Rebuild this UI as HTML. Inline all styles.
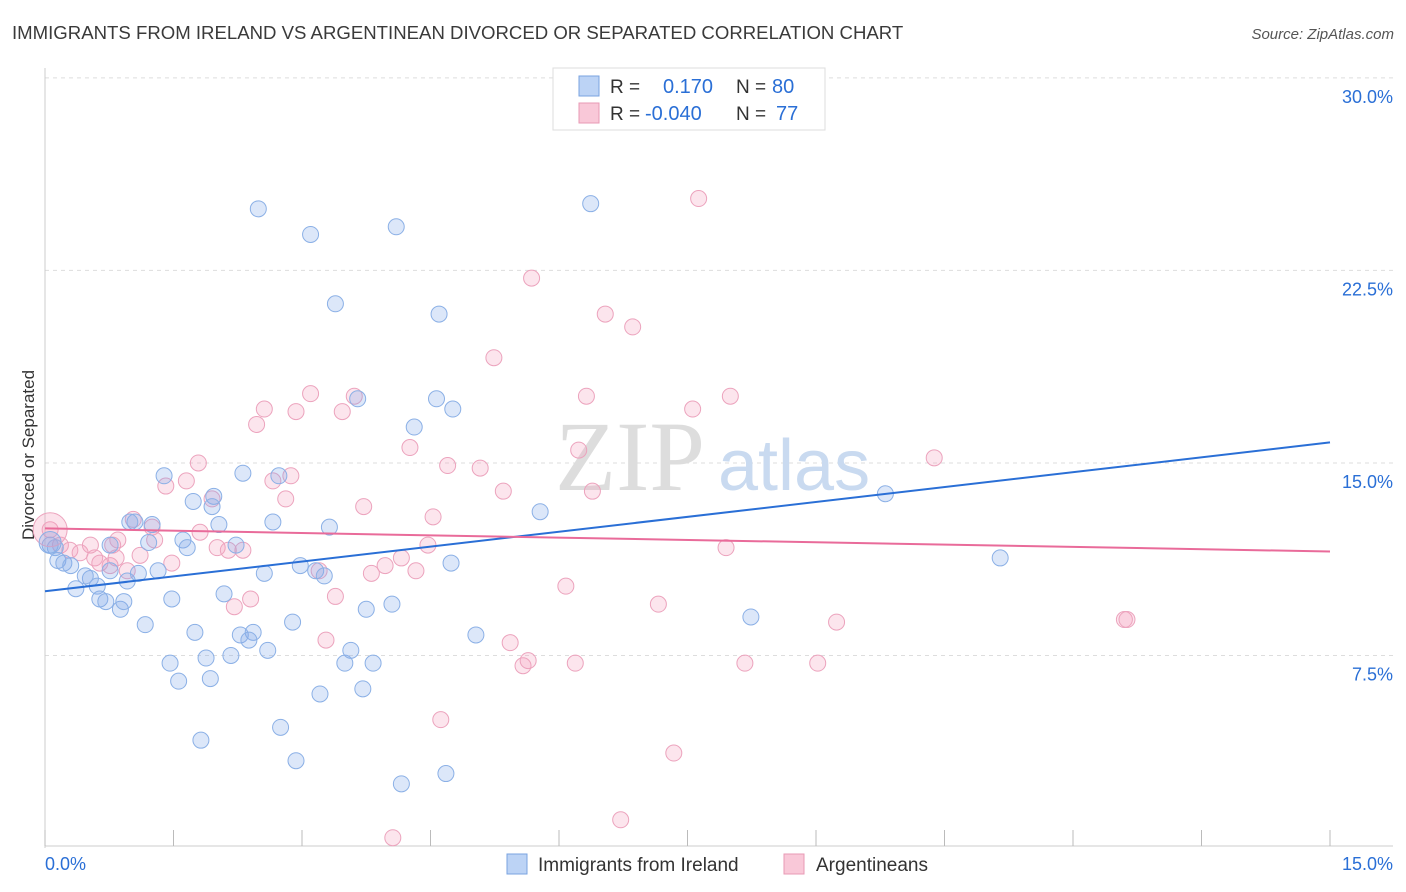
<!DOCTYPE html>
<html><head><meta charset="utf-8"><style>
body{margin:0;background:#fff;font-family:"Liberation Sans",sans-serif;}
svg{display:block}
</style></head><body>
<svg id="chart" width="1406" height="892">
<text x="12" y="39" font-size="18.6" fill="#3a3a3a">IMMIGRANTS FROM IRELAND VS ARGENTINEAN DIVORCED OR SEPARATED CORRELATION CHART</text>
<text x="1394" y="39" font-size="15" fill="#555" font-style="italic" text-anchor="end">Source: ZipAtlas.com</text>
<text x="34" y="455" font-size="17" fill="#333" text-anchor="middle" transform="rotate(-90 34 455)">Divorced or Separated</text>
<g id="grid"></g>
<g id="axes"></g>
<text x="555" y="490" font-size="100" fill="#ddd" font-family="Liberation Serif,serif">ZIP</text>
<text x="718" y="490" font-size="72" fill="#c9daf0">atlas</text>
<g id="pts"></g>
<g id="lines"></g>
<g>
<rect x="553" y="68" width="272" height="62" fill="#fff" stroke="#ddd"/>
<rect x="579" y="76" width="20" height="20" fill="#bcd3f5" stroke="#7aa3e0"/>
<rect x="579" y="103" width="20" height="20" fill="#f9c8d8" stroke="#e89ab5"/>
<text x="610" y="93" font-size="19" fill="#333">R = </text><text x="663" y="93" font-size="20" fill="#2a6fd6">0.170</text>
<text x="736" y="93" font-size="19" fill="#333">N = </text><text x="772" y="93" font-size="20" fill="#2a6fd6">80</text>
<text x="610" y="120" font-size="19" fill="#333">R = </text><text x="645" y="120" font-size="20" fill="#2a6fd6">-0.040</text>
<text x="736" y="120" font-size="19" fill="#333">N = </text><text x="776" y="120" font-size="20" fill="#2a6fd6">77</text>
</g>
<g>
<rect x="507" y="854" width="20" height="20" fill="#bcd3f5" stroke="#7aa3e0"/>
<text x="538" y="871" font-size="19" fill="#333">Immigrants from Ireland</text>
<rect x="784" y="854" width="20" height="20" fill="#f9c8d8" stroke="#e89ab5"/>
<text x="816" y="871" font-size="19" fill="#333">Argentineans</text>
</g>
</svg>
<script>
const blueX=[2.49,3.10,4.10,6.37,3.39,4.60,4.57,4.76,4.31,3.65,1.39,2.31,2.73,1.97,1.73,1.05,1.25,2.03,2.66,3.32,1.61,1.66,1.21,2.23,0.76,5.78,9.81,11.15,0.12,0.15,0.22,0.30,0.53,0.36,0.61,0.76,0.96,1.09,1.32,2.56,2.98,3.16,3.26,4.74,0.64,0.71,0.88,0.92,1.48,2.09,1.17,1.75,2.28,2.43,2.38,2.89,3.75,4.05,5.03,8.24,1.46,1.56,1.88,1.93,2.17,2.60,3.50,3.57,3.83,3.71,3.21,1.82,2.75,2.93,4.68,4.16,0.06,0.47,0.99,1.95];
const blueY=[24.9,23.9,24.2,25.1,21.2,20.8,17.5,17.1,16.4,17.5,14.5,14.6,14.5,13.7,13.5,12.7,12.6,12.6,12.7,12.5,12.0,11.7,11.9,11.8,11.8,13.1,13.8,11.3,11.7,11.2,11.1,11.0,10.5,10.1,10.2,10.8,10.4,10.7,10.8,10.7,11.0,10.8,10.6,11.1,9.7,9.6,9.3,9.6,9.7,9.9,8.7,8.4,8.3,8.4,8.1,8.8,9.3,9.5,8.3,9.0,7.2,6.5,7.4,6.6,7.5,7.7,7.2,7.7,7.2,6.2,6.0,4.2,4.7,3.4,2.9,2.5,11.8,10.6,12.7,13.3];
const pinkX=[7.63,5.68,6.54,6.86,5.24,3.10,6.32,8.00,7.56,2.56,2.93,3.47,3.61,2.47,4.26,6.23,4.70,5.08,10.38,1.79,1.41,1.65,2.87,2.81,1.95,2.66,5.35,6.39,3.72,4.53,1.03,1.25,1.28,0.85,0.79,1.81,2.01,2.14,2.31,4.47,7.95,0.18,0.29,0.41,0.58,0.64,0.83,1.48,4.16,3.97,4.33,3.81,3.20,0.96,6.08,3.39,2.40,2.21,7.16,9.24,12.60,12.63,3.28,5.43,5.58,5.64,6.19,8.17,9.02,4.62,7.34,4.06,6.72,0.06,0.53,0.76,1.11];
const pinkY=[25.3,22.2,20.8,20.3,19.1,17.7,17.6,17.6,17.1,17.1,17.0,17.0,17.6,16.5,15.6,15.5,14.9,14.8,15.2,15.0,14.1,14.3,14.5,13.6,13.6,14.3,13.9,13.9,13.3,12.9,12.8,12.5,12.0,12.0,11.8,12.3,11.7,11.6,11.6,11.8,11.7,11.8,11.6,11.5,11.3,11.1,11.3,11.1,11.3,11.0,10.8,10.7,10.8,10.8,10.2,9.8,9.7,9.4,9.5,8.8,8.9,8.9,8.1,8.0,7.1,7.3,7.2,7.2,7.2,5.0,3.7,0.4,1.1,12.4,11.8,11.0,11.4];
const yTicks=[7.5,15.0,22.5,30.0];
const blueTrend=[10.0,15.8];
const pinkTrend=[12.45,11.55];
const NS="http://www.w3.org/2000/svg";
const sx=v=>45+v/15*1285;
const sy=v=>848-v*25.67;
function mk(t,a,p){const e=document.createElementNS(NS,t);for(const k in a)e.setAttribute(k,a[k]);p.appendChild(e);return e;}
const grid=document.getElementById('grid'),axes=document.getElementById('axes');
yTicks.forEach(t=>{
 const l=mk('line',{x1:45,x2:1393,y1:sy(t),y2:sy(t),stroke:'#ddd','stroke-dasharray':'4,4'},grid);
 
 
 const tx=mk('text',{x:1393,y:sy(t)+25,'font-size':18,fill:'#2a6fd6','text-anchor':'end'},axes);
 tx.textContent=t.toFixed(1)+'%';
 
 
});
mk('line',{x1:45,x2:45,y1:68,y2:848,stroke:'#ccc'},axes);
mk('line',{x1:45,x2:1393,y1:846,y2:846,stroke:'#ccc'},axes);
for(let i=0;i<=10;i++){mk('line',{x1:sx(i*1.5),x2:sx(i*1.5),y1:830,y2:846,stroke:'#bbb'},axes);}
const x0=mk('text',{x:45,y:870,'font-size':18,fill:'#2a6fd6'},axes);x0.textContent='0.0%';


const x1=mk('text',{x:1393,y:870,'font-size':18,fill:'#2a6fd6','text-anchor':'end'},axes);x1.textContent='15.0%';


const pts=document.getElementById('pts');
pinkX.forEach((x,i)=>{const c=mk('circle',{cx:sx(x),cy:sy(pinkY[i]),r:8,fill:'rgba(244,160,190,0.28)',stroke:'#eca3bd','stroke-width':1},pts);
 
 });
blueX.forEach((x,i)=>{const c=mk('circle',{cx:sx(x),cy:sy(blueY[i]),r:8,fill:'rgba(130,168,232,0.28)',stroke:'#8bb0e6','stroke-width':1},pts);
 
 });
const big1=mk('circle',{cx:sx(0.06),cy:sy(12.4),r:17,fill:'rgba(244,160,190,0.3)',stroke:'#eca3bd'},pts);


const big2=mk('circle',{cx:sx(0.06),cy:sy(11.9),r:11,fill:'rgba(130,168,232,0.3)',stroke:'#8bb0e6'},pts);


const lines=document.getElementById('lines');
const bl=mk('line',{x1:sx(0),x2:sx(15),y1:sy(blueTrend[0]),y2:sy(blueTrend[1]),stroke:'#2a6fd6','stroke-width':2},lines);


const pl=mk('line',{x1:sx(0),x2:sx(15),y1:sy(pinkTrend[0]),y2:sy(pinkTrend[1]),stroke:'#e96b9a','stroke-width':2},lines);


</script>
</body></html>
